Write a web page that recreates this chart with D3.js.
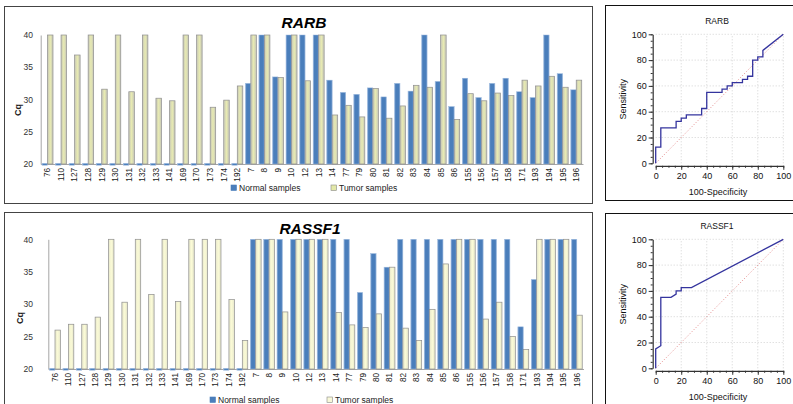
<!DOCTYPE html>
<html>
<head>
<meta charset="utf-8">
<script src="https://cdn.jsdelivr.net/npm/d3@7"></script>
<style>
  body { margin: 0; background: #fff; }
  svg { display: block; font-family: "Liberation Sans", Arial, sans-serif; }
</style>
</head>
<body>
<svg id="fig" width="793" height="404"></svg>
<script>
// sample ids on the x axis (same order in both bar charts)
const samples = ["76","110","127","128","129","130","131","132","133","141","169","170","173","174","192",
  "7","8","9","10","12","13","14","77","79","80","81","82","83","84","85","86",
  "155","156","157","158","171","193","194","195","196"];

// Cq values (20 = no bar, 40 = top of axis)
const rarbNormal = [20,20,20,20,20,20,20,20,20,20,20,20,20,20,20,
  32.5,40,33.5,40,40,40,33.0,31.1,30.8,31.8,30.4,32.5,31.3,40,32.8,28.9,
  33.3,30.3,32.5,33.3,31.2,30.3,40,34.0,31.5];
const rarbTumor = [40,40,36.9,40,31.6,40,31.2,40,30.2,29.8,40,40,28.8,29.9,32.1,
  40,40,33.4,40,32.9,40,27.6,29.1,27.3,31.7,27.1,29.0,32.2,31.9,40,26.9,
  30.9,29.8,31.0,30.6,33.0,32.1,33.6,31.9,33.0];
const rassf1Normal = [20,20,20,20,20,20,20,20,20,20,20,20,20,20,20,
  40,40,40,40,40,40,40,40,31.8,37.8,35.7,40,40,40,40,40,
  40,40,40,40,26.5,33.8,40,40,40];
const rassf1Tumor = [26.0,26.9,26.9,28.0,40,30.3,40,31.5,40,30.4,40,40,40,30.7,24.4,
  40,40,28.8,40,40,40,28.7,26.8,26.4,28.5,35.7,26.3,24.4,29.2,36.2,40,
  40,27.7,30.3,25.0,23.0,40,40,40,28.3];
const cqTicks = [20,25,30,35,40];

// ROC curves: [100-specificity, sensitivity]
const rarbRoc = [[0,0],[0,12.5],[4,12.5],[4,27.5],[16,27.5],[16,32.5],[20,32.5],[20,35],[24,35],[24,37.5],
  [36,37.5],[36,42.5],[40,42.5],[40,55],[52,55],[52,57.5],[56,57.5],[56,60],[60,60],[60,62.5],
  [68,62.5],[68,65],[72,65],[72,67.5],[76,67.5],[76,80],[80,80],[80,82.5],[84,82.5],[84,87.5],[100,100]];
const rassf1Roc = [[0,0],[0,15],[4,17.5],[4,55],[12,55],[16,57.5],[16,60],[20,60],[20,62.5],[28,62.5],[100,100]];
const rocTicks = [0,20,40,60,80,100];

const svg = d3.select("#fig");
const defs = svg.append("defs");

function hGrad(id, stops) {
  const g = defs.append("linearGradient").attr("id", id)
    .attr("x1", "0%").attr("x2", "100%").attr("y1", "0%").attr("y2", "0%");
  stops.forEach(s => g.append("stop").attr("offset", s[0]).attr("stop-color", s[1]));
}
hGrad("gBlue", [["0%","#7ea3d3"],["25%","#4a7ebb"],["75%","#4a7ebb"],["100%","#6e97cb"]]);
hGrad("gTumA", [["0%","#c6c6b8"],["50%","#e8ebb2"],["100%","#c6c6b8"]]);
hGrad("gTumB", [["0%","#e6e6cc"],["50%","#fbfbd6"],["100%","#e6e6cc"]]);

// ---------- bar charts ----------
function drawBars(c) {
  svg.append("rect")
    .attr("x", c.box[0] + 0.5).attr("y", c.box[1] + 0.5)
    .attr("width", c.box[2]).attr("height", c.box[3])
    .attr("fill", "none").attr("stroke", "#444");

  const x = d3.scaleBand().domain(samples).range(c.xr).padding(0);
  const x1 = d3.scaleBand().domain(["n","t"]).range([0, x.bandwidth()])
    .paddingInner(0).paddingOuter(0.23);
  const y = d3.scaleLinear().domain([20, 40]).range(c.yr);

  const g = svg.append("g");

  // y axis
  const ya = g.append("g")
    .attr("transform", `translate(${c.xr[0]},0)`)
    .call(d3.axisLeft(y).tickValues(cqTicks).tickSize(0).tickPadding(c.xr[0] - 33));
  ya.select(".domain").attr("stroke", "#a6a6a6");
  ya.selectAll("text").attr("font-size", 8.5).attr("fill", "#333");

  // x axis
  const xa = g.append("g")
    .attr("transform", `translate(0,${c.yr[0]})`)
    .call(d3.axisBottom(x).tickSize(0).tickSizeOuter(0));
  xa.select(".domain").attr("stroke", "#a6a6a6");
  xa.selectAll("text")
    .attr("font-size", 8.2).attr("fill", "#222")
    .attr("transform", "rotate(-90)")
    .attr("text-anchor", "end")
    .attr("x", -4).attr("y", 0).attr("dy", "0.35em");

  const rows = samples.map((s, i) => ({ s, n: c.normal[i], t: c.tumor[i] }));

  // normal bars
  g.append("g").selectAll("rect").data(rows).join("rect")
    .attr("x", d => x(d.s) + x1("n"))
    .attr("width", x1.bandwidth())
    .attr("y", d => d.n > 20 ? y(d.n) : y(20) - 0.6)
    .attr("height", d => d.n > 20 ? y(20) - y(d.n) : 1.8)
    .attr("fill", "url(#gBlue)")
    .attr("stroke", "#9cb9de").attr("stroke-width", 0.5);

  // tumor bars
  g.append("g").selectAll("rect").data(rows).join("rect")
    .attr("x", d => x(d.s) + x1("t"))
    .attr("width", x1.bandwidth())
    .attr("y", d => y(d.t))
    .attr("height", d => y(20) - y(d.t))
    .attr("fill", c.tumorFill)
    .attr("stroke", "#8e8e8e").attr("stroke-width", 0.7);

  // title
  svg.append("text")
    .attr("x", c.title[1]).attr("y", c.title[2])
    .attr("text-anchor", "middle")
    .attr("font-size", 15.5).attr("font-weight", "bold").attr("font-style", "italic")
    .text(c.title[0]);

  // y label
  svg.append("text")
    .attr("transform", `translate(${c.ylab[0]},${c.ylab[1]}) rotate(-90)`)
    .attr("text-anchor", "middle")
    .attr("font-size", 9).attr("font-weight", "bold").attr("fill", "#222")
    .text("Cq");

  // legend
  const lg = svg.append("g");
  [["Normal samples", "#4a7ebb", "#4a7ebb", c.leg[0]], ["Tumor samples", c.legTumor, "#888", c.leg[1]]]
    .forEach(l => {
      lg.append("rect")
        .attr("x", l[3]).attr("y", c.leg[2] - 6)
        .attr("width", 5.5).attr("height", 5.5)
        .attr("fill", l[1]).attr("stroke", l[2]).attr("stroke-width", 0.6);
      lg.append("text")
        .attr("x", l[3] + 8).attr("y", c.leg[2])
        .attr("font-size", 8.5).attr("fill", "#222")
        .text(l[0]);
    });
}

drawBars({
  box: [4, 6, 588, 197],
  xr: [40.7, 583], yr: [164, 35],
  normal: rarbNormal, tumor: rarbTumor,
  tumorFill: "url(#gTumA)", legTumor: "#e3e8a8",
  title: ["RARB", 304, 28],
  ylab: [21, 110],
  leg: [231, 331, 191]
});

drawBars({
  box: [4, 212, 588, 200],
  xr: [48.3, 583.5], yr: [369, 239.3],
  normal: rassf1Normal, tumor: rassf1Tumor,
  tumorFill: "url(#gTumB)", legTumor: "#f8f8d8",
  title: ["RASSF1", 310, 234],
  ylab: [23, 318],
  leg: [210, 327, 403]
});

// ---------- ROC curves ----------
function drawRoc(c) {
  svg.append("rect")
    .attr("x", 605.5).attr("y", c.box[0] + 0.5)
    .attr("width", 200).attr("height", c.box[1])
    .attr("fill", "none").attr("stroke", "#111");

  const x = d3.scaleLinear().domain([0, 100]).range([655.7, 783.3]);
  const y = d3.scaleLinear().domain([0, 100]).range([c.y0, c.y0 - 129]);
  const g = svg.append("g");

  // dotted grid
  g.append("g").selectAll("line").data(rocTicks.slice(1)).join("line")
    .attr("x1", d => x(d)).attr("x2", d => x(d))
    .attr("y1", y(0)).attr("y2", y(100))
    .attr("stroke", "#c8c8c8").attr("stroke-width", 0.8).attr("stroke-dasharray", "1,2");
  g.append("g").selectAll("line").data(rocTicks.slice(1)).join("line")
    .attr("x1", x(0)).attr("x2", x(100))
    .attr("y1", d => y(d)).attr("y2", d => y(d))
    .attr("stroke", "#c8c8c8").attr("stroke-width", 0.8).attr("stroke-dasharray", "1,2");

  // axes (offset from the plot like the original)
  const minor = d3.range(0, 101, 5);
  g.append("g").attr("transform", "translate(652.7,0)")
    .call(d3.axisLeft(y).tickValues(rocTicks).tickSize(4).tickSizeOuter(0).tickPadding(2));
  g.append("g").attr("transform", "translate(652.7,0)")
    .call(d3.axisLeft(y).tickValues(minor).tickSize(2).tickFormat(""))
    .select(".domain").remove();
  g.append("g").attr("transform", `translate(0,${c.y0 + 2.5})`)
    .call(d3.axisBottom(x).tickValues(rocTicks).tickSize(4).tickSizeOuter(0).tickPadding(3));
  g.append("g").attr("transform", `translate(0,${c.y0 + 2.5})`)
    .call(d3.axisBottom(x).tickValues(minor).tickSize(2).tickFormat(""))
    .select(".domain").remove();
  g.selectAll(".domain").attr("stroke", "#333").attr("stroke-width", 1.2);
  g.selectAll(".tick line").attr("stroke", "#333");
  g.selectAll(".tick text").attr("font-size", 9).attr("fill", "#111");

  // reference diagonal
  g.append("line")
    .attr("x1", x(0)).attr("y1", y(0)).attr("x2", x(100)).attr("y2", y(100))
    .attr("stroke", "#e07a7a").attr("stroke-width", 0.9).attr("stroke-dasharray", "1,2");

  // curve
  g.append("path").datum(c.pts)
    .attr("d", d3.line().x(d => x(d[0])).y(d => y(d[1])))
    .attr("fill", "none").attr("stroke", "#34349e").attr("stroke-width", 1.3);

  svg.append("text").attr("x", 717).attr("y", c.y0 - 139.5)
    .attr("text-anchor", "middle").attr("font-size", 8.5).attr("fill", "#111")
    .text(c.title);
  svg.append("text")
    .attr("transform", `translate(626,${c.y0 - 64}) rotate(-90)`)
    .attr("text-anchor", "middle").attr("font-size", 9).attr("fill", "#111")
    .text("Sensitivity");
  svg.append("text").attr("x", 718).attr("y", c.y0 + 31.5)
    .attr("text-anchor", "middle").attr("font-size", 9).attr("fill", "#111")
    .text("100-Specificity");
}

drawRoc({ box: [5, 195], y0: 163.3, title: "RARB", pts: rarbRoc });
drawRoc({ box: [213, 200], y0: 368.3, title: "RASSF1", pts: rassf1Roc });
</script>
</body>
</html>
